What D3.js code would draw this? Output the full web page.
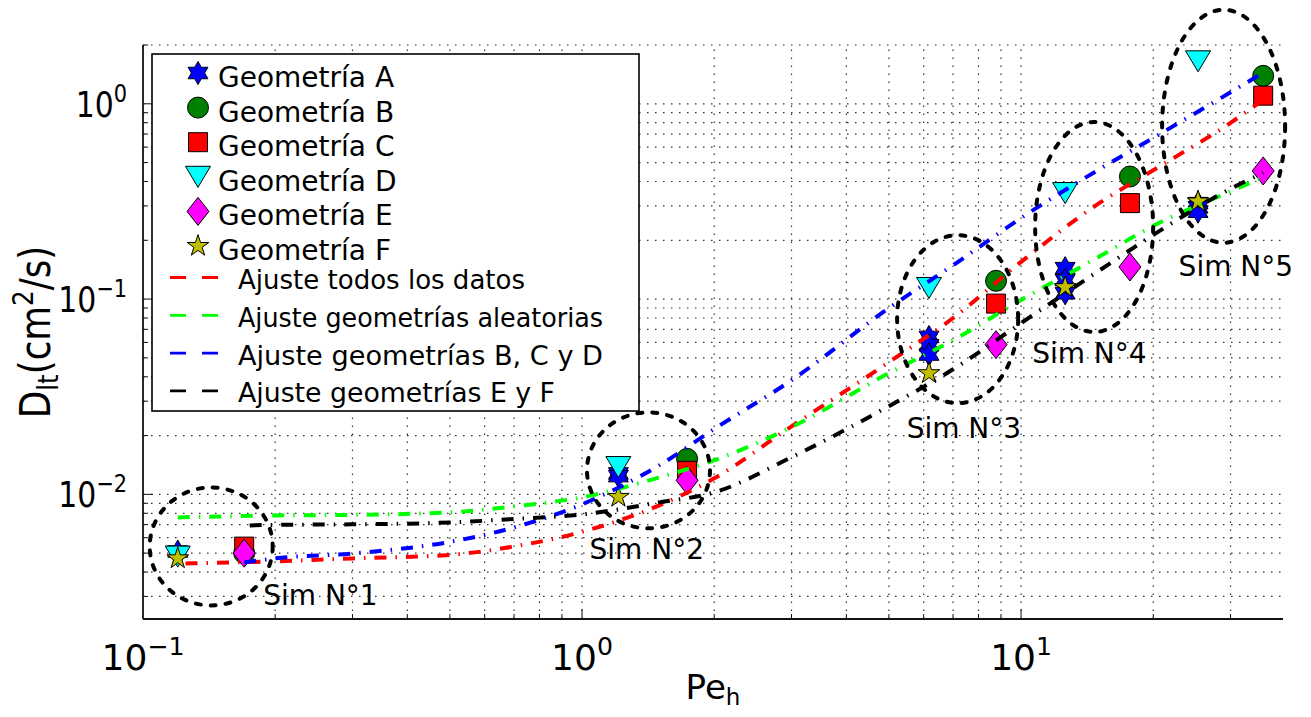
<!DOCTYPE html>
<html>
<head>
<meta charset="utf-8">
<script src="https://cdn.jsdelivr.net/npm/d3@7"></script>
<style>
  body { margin: 0; background: #fff; }
  svg { display: block; font-family: "DejaVu Sans", sans-serif; }
</style>
</head>
<body>
<svg id="chart" width="1311" height="717"></svg>
<script>
// ---- datos (Pe_h, D_lt) ----
const peA = [0.12, 1.21, 1.21, 6.17, 6.17, 6.17, 12.6, 12.6, 12.6, 25.3, 25.3, 25.3]
const dA  = [0.0051, 0.0128, 0.0124, 0.064, 0.058, 0.052, 0.144, 0.125, 0.107, 0.31, 0.295, 0.28]
const peB = [0.17, 1.735, 8.77, 17.7, 35.6]
const dB  = [0.0050, 0.0152, 0.124, 0.424, 1.39]
const peC = [0.17, 1.735, 8.77, 17.7, 35.6]
const dC  = [0.0054, 0.0132, 0.0948, 0.310, 1.10]
const peD = [0.12, 1.21, 6.17, 12.6, 25.3]
const dD  = [0.0048, 0.0138, 0.114, 0.349, 1.65]
const peE = [0.17, 1.735, 8.77, 17.7, 35.6]
const dE  = [0.0050, 0.0118, 0.0584, 0.146, 0.453]
const peF = [0.12, 1.21, 6.17, 12.6, 25.3]
const dF  = [0.0047, 0.0097, 0.0417, 0.115, 0.316]

// curvas de ajuste
const peFitTodos = [0.125, 0.2, 0.3, 0.5, 0.7, 1, 1.5, 2, 3, 5, 7, 10, 15, 20, 30, 35.6]
const dFitTodos  = [0.00443, 0.00454, 0.00470, 0.00490, 0.00541, 0.00643, 0.00879, 0.01208, 0.0223, 0.0475, 0.080, 0.155, 0.308, 0.457, 0.799, 1.048]
const peFitAleat = [0.12, 0.2, 0.3, 0.5, 0.7, 1, 1.5, 2, 3, 5, 7, 10, 15, 20, 30, 35.6]
const dFitAleat  = [0.00762, 0.00780, 0.00785, 0.00809, 0.00868, 0.00966, 0.01222, 0.01494, 0.0221, 0.0418, 0.0616, 0.0989, 0.164, 0.237, 0.356, 0.422]
const peFitBCD = [0.17, 0.2, 0.3, 0.5, 0.7, 1, 1.5, 2, 3, 5, 7, 10, 15, 20, 30, 35.6]
const dFitBCD  = [0.00448, 0.00470, 0.00498, 0.00571, 0.00677, 0.00889, 0.01409, 0.0216, 0.0384, 0.0899, 0.149, 0.260, 0.459, 0.669, 1.145, 1.442]
const peFitEF = [0.175, 0.2, 0.3, 0.5, 0.7, 1, 1.5, 2, 3, 5, 7, 10, 15, 20, 30, 35.6]
const dFitEF  = [0.00693, 0.00698, 0.00702, 0.00718, 0.00748, 0.00789, 0.00910, 0.01023, 0.0155, 0.0283, 0.0437, 0.0753, 0.139, 0.213, 0.367, 0.443]

// zonas de simulacion (centro en unidades de datos)
const simNames = ['Sim N°1', 'Sim N°2', 'Sim N°3', 'Sim N°4', 'Sim N°5']
const simPe = [0.143, 1.417, 7.17, 14.67, 28.93]
const simD  = [0.00541, 0.01327, 0.0789, 0.234, 0.767]

const geomNames = ['Geometría A', 'Geometría B', 'Geometría C', 'Geometría D', 'Geometría E', 'Geometría F']
const fitNames = ['Ajuste todos los datos', 'Ajuste geometrías aleatorias', 'Ajuste geometrías B, C y D', 'Ajuste geometrías E y F']

// ---- estilos ----
const geomColors = ['#0000ff', '#008000', '#ff0000', '#00ffff', '#ff00ff', '#bfbf00']
const fitColors = ['#ff0000', '#00ff00', '#0000ff', '#000000']
const simRx = [61.5, 61.5, 60.5, 59, 61.5]
const simRy = [59, 58, 84, 105, 116.5]
const simLabelOff = [[52, 59], [-59, 89], [-51, 119], [-62, 136], [-45, 150]]

const svg = d3.select('#chart')
const x = d3.scaleLog().domain([0.1, 39.5]).range([143, 1283])
const y = d3.scaleLog().domain([0.0023, 2.0]).range([619, 45])
const [x0, x1] = x.range()
const [y0, y1] = y.range()

// formas de marcador
function starPath (n, R, r) {
  const pts = []
  for (let i = 0; i < 2 * n; i++) {
    const a = -Math.PI / 2 + i * Math.PI / n
    const rad = i % 2 ? r : R
    pts.push([rad * Math.cos(a), rad * Math.sin(a)])
  }
  return 'M' + pts.map(p => p.join(',')).join('L') + 'Z'
}
function circlePath (r) {
  const p = d3.path()
  p.arc(0, 0, r, 0, 2 * Math.PI)
  return p.toString()
}
const markerPaths = [
  starPath(6, 11.5, 11.5 / Math.sqrt(3)),
  circlePath(10.5),
  'M-9.5,-9.5L9.5,-9.5L9.5,9.5L-9.5,9.5Z',
  'M-12.5,-10.5L12.5,-10.5L0,10.5Z',
  'M0,-14L11,0L0,14L-11,0Z',
  starPath(5, 11.4, 11.4 * 0.382)
]

// ---- rejilla ----
const xTicks = x.ticks().filter(v => v > 0.10001 && v < 39.5)
const yTicks = y.ticks().filter(v => v > 0.0023 && v <= 2.0001)
const isMajor = v => Math.abs(Math.log10(v) - Math.round(Math.log10(v))) < 1e-6

const grid = svg.append('g').attr('stroke', '#333').attr('stroke-width', 1.2)
  .attr('stroke-dasharray', '1.5,6.5')
grid.selectAll('.gx').data(xTicks).enter().append('line')
  .attr('x1', d => x(d)).attr('x2', d => x(d)).attr('y1', y0).attr('y2', y1)
grid.selectAll('.gy').data(yTicks).enter().append('line')
  .attr('y1', d => y(d)).attr('y2', d => y(d)).attr('x1', x0).attr('x2', x1)

// ---- ejes ----
const axis = svg.append('g').attr('stroke', '#111')
axis.append('line').attr('x1', x0).attr('x2', x0).attr('y1', y0).attr('y2', y1).attr('stroke-width', 1.8)
axis.append('line').attr('x1', x0).attr('x2', x1).attr('y1', y0).attr('y2', y0).attr('stroke-width', 1.8)
axis.selectAll('.tx').data(xTicks).enter().append('line').attr('stroke-width', 1)
  .attr('x1', d => x(d)).attr('x2', d => x(d)).attr('y1', y0).attr('y2', d => y0 - (isMajor(d) ? 10 : 5))
axis.selectAll('.ty').data(yTicks).enter().append('line').attr('stroke-width', 1)
  .attr('y1', d => y(d)).attr('y2', d => y(d)).attr('x1', x0).attr('x2', d => x0 + (isMajor(d) ? 10 : 5))

function powText (sel, exp, fs) {
  sel.append('tspan').text('10')
  sel.append('tspan').attr('font-size', fs * 0.7).attr('dy', -fs * 0.42).text(exp)
}
const fmtExp = v => { const e = Math.round(Math.log10(v)); return e < 0 ? '\u2212' + (-e) : String(e) }

const xMajors = [0.1, 1, 10]
xMajors.forEach(v => {
  const t = svg.append('text').attr('x', x(v)).attr('y', 670)
    .attr('text-anchor', 'middle').attr('font-size', 36).attr('fill', '#000')
  powText(t, fmtExp(v), 36)
})
const yMajors = [0.01, 0.1, 1]
yMajors.forEach(v => {
  const t = svg.append('text')
    .attr('transform', `translate(127,${y(v) + 13}) scale(0.83,1)`)
    .attr('text-anchor', 'end').attr('font-size', 36).attr('fill', '#000')
  powText(t, fmtExp(v), 36)
})

// titulos de ejes
const yl = svg.append('text')
  .attr('transform', `translate(50,${(y0 + y1) / 2}) rotate(-90) scale(0.85,1)`)
  .attr('text-anchor', 'middle').attr('font-size', 42).attr('fill', '#000')
yl.append('tspan').text('D')
yl.append('tspan').attr('font-size', 29).attr('dy', 8).text('lt')
yl.append('tspan').attr('dy', -8).text('(cm')
yl.append('tspan').attr('font-size', 29).attr('dy', -17).text('2')
yl.append('tspan').attr('dy', 17).text('/s)')

const xl = svg.append('text').attr('x', (x0 + x1) / 2).attr('y', 699)
  .attr('text-anchor', 'middle').attr('font-size', 34).attr('fill', '#000')
xl.append('tspan').text('Pe')
xl.append('tspan').attr('font-size', 23).attr('dy', 6).text('h')

// ---- marcadores ----
const geomPe = [peA, peB, peC, peD, peE, peF]
const geomD = [dA, dB, dC, dD, dE, dF]
geomPe.forEach((pes, gi) => {
  const pts = pes.map((p, i) => [p, geomD[gi][i]])
  svg.append('g').selectAll('path').data(pts).enter().append('path')
    .attr('d', markerPaths[gi])
    .attr('transform', d => `translate(${x(d[0])},${y(d[1])})`)
    .attr('fill', geomColors[gi]).attr('stroke', '#000').attr('stroke-width', 1)
})

// ---- curvas de ajuste ----
const fitPe = [peFitTodos, peFitAleat, peFitBCD, peFitEF]
const fitD = [dFitTodos, dFitAleat, dFitBCD, dFitEF]
const line = d3.line().x(d => x(d[0])).y(d => y(d[1])).curve(d3.curveMonotoneX)
fitPe.forEach((pes, fi) => {
  svg.append('path')
    .datum(pes.map((p, i) => [p, fitD[fi][i]]))
    .attr('d', line)
    .attr('fill', 'none').attr('stroke', fitColors[fi]).attr('stroke-width', 4)
    .attr('stroke-dasharray', '12,9,1.5,9')
})

// ---- zonas de simulacion ----
simNames.forEach((name, i) => {
  const cx = x(simPe[i]), cy = y(simD[i])
  svg.append('ellipse').attr('cx', cx).attr('cy', cy).attr('rx', simRx[i]).attr('ry', simRy[i])
    .attr('fill', 'none').attr('stroke', '#000').attr('stroke-width', 4)
    .attr('stroke-linecap', 'round').attr('stroke-dasharray', '5,10')
  svg.append('text').attr('x', cx + simLabelOff[i][0]).attr('y', cy + simLabelOff[i][1])
    .attr('font-size', 28).attr('fill', '#000').text(name)
})

// ---- leyenda ----
const lg = svg.append('g')
lg.append('rect').attr('x', 152).attr('y', 54).attr('width', 487).attr('height', 357)
  .attr('fill', '#fff').attr('stroke', '#000').attr('stroke-width', 1.6)
geomNames.forEach((name, i) => {
  const base = 87 + i * 34.6
  lg.append('path').attr('d', markerPaths[i]).attr('transform', `translate(198,${base - 14})`)
    .attr('fill', geomColors[i]).attr('stroke', '#000').attr('stroke-width', 1)
  lg.append('text').attr('x', 218).attr('y', base).attr('font-size', 28).attr('fill', '#000').text(name)
})
const fitLabelWidths = [287, 365, 365, 317]
fitNames.forEach((name, i) => {
  const base = 289 + i * 37.8
  lg.append('line').attr('x1', 170).attr('x2', 218).attr('y1', base - 11.5).attr('y2', base - 11.5)
    .attr('stroke', fitColors[i]).attr('stroke-width', 2.8).attr('stroke-dasharray', '16,16')
  lg.append('text').attr('x', 238).attr('y', base).attr('font-size', 26).attr('fill', '#000')
    .attr('textLength', fitLabelWidths[i]).attr('lengthAdjust', 'spacingAndGlyphs').text(name)
})
</script>
</body>
</html>
